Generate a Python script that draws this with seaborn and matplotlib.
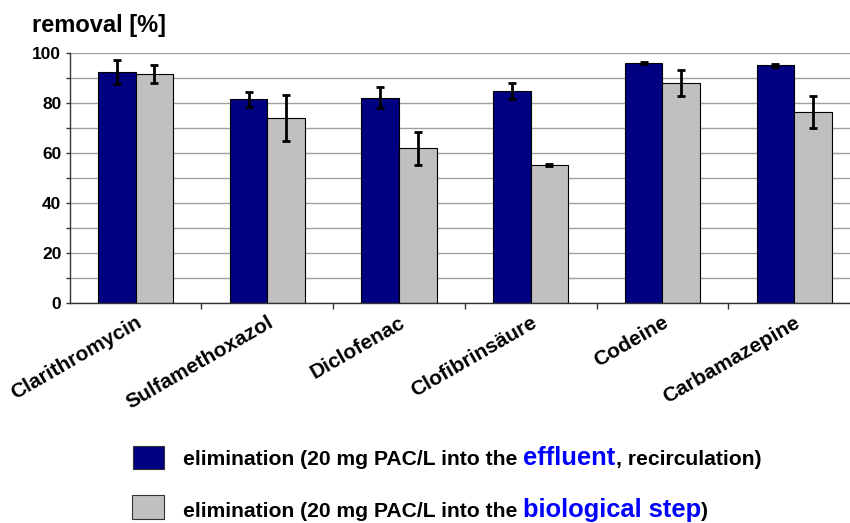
import matplotlib
matplotlib.use("Agg")
import matplotlib.pyplot as plt
import seaborn as sns
import pandas as pd
import numpy as np
from matplotlib.patches import Rectangle
from matplotlib.ticker import MultipleLocator

categories = ["Clarithromycin", "Sulfamethoxazol", "Diclofenac",
              "Clofibrinsäure", "Codeine", "Carbamazepine"]
effluent = [92.4, 81.6, 82.1, 84.8, 96.0, 95.1]
effluent_err = [4.8, 3.0, 4.2, 3.1, 0.3, 0.7]
bio = [91.7, 73.9, 61.9, 55.1, 88.1, 76.5]
bio_err = [3.5, 9.2, 6.6, 0.4, 5.3, 6.3]
series = ["effluent", "biological step"]
colors = ["#000080", "#C0C0C0"]
yticks = [0, 20, 40, 60, 80, 100]

sns.set_theme(style="white")
plt.rcParams['font.family'] = ['Liberation Sans', 'DejaVu Sans']
plt.rcParams['font.weight'] = 'bold'
plt.rcParams['text.color'] = 'black'
plt.rcParams['xtick.color'] = 'black'
plt.rcParams['ytick.color'] = 'black'

df = pd.DataFrame({
    "compound": categories * 2,
    "removal": effluent + bio,
    "series": [series[0]] * 6 + [series[1]] * 6,
})
errs = [effluent_err, bio_err]
vals = [effluent, bio]

W, H = 850, 523
fig = plt.figure(figsize=(W / 100, H / 100), dpi=100)
ax = fig.add_axes([69.7 / W, 220 / H, (860 - 69.7) / W, 250 / H])

sns.barplot(data=df, x="compound", y="removal", hue="series", order=categories,
            hue_order=series, palette=colors, saturation=1, width=0.57, gap=0,
            edgecolor="black", linewidth=0.8, errorbar=None, legend=False, ax=ax,
            zorder=2)

for cont, v, e in zip(ax.containers, vals, errs):
    xs = [p.get_x() + p.get_width() / 2 for p in cont.patches]
    ax.errorbar(xs, v, yerr=e, fmt='none', ecolor='black', elinewidth=2,
                capsize=2.6, capthick=2, zorder=3)

ax.set_xlim(-0.5, 5.5)
ax.set_ylim(0, 100)
ax.set_yticks(yticks)
ax.yaxis.set_minor_locator(MultipleLocator(10))
ax.set_axisbelow(True)
ax.grid(which='both', axis='y', color='#A0A0A0', lw=1.0)
ax.grid(False, axis='x')
for s in ['top', 'right']:
    ax.spines[s].set_visible(False)
for s in ['left', 'bottom']:
    ax.spines[s].set_color('#333333')
    ax.spines[s].set_linewidth(1.0)

ax.tick_params(axis='y', which='both', direction='out', length=3, width=1,
               color='#333333', left=True, pad=3, labelsize=12.5,
               labelcolor='black')
ax.set_xticks(np.arange(0.5, 5.5, 1), minor=True)
ax.tick_params(axis='x', which='minor', direction='out', length=4, width=1,
               color='#333333', bottom=True)
ax.tick_params(axis='x', which='major', length=0, pad=7, labelcolor='black')
ax.set_xticks(range(len(categories)))
ax.set_xticklabels(categories, rotation=30, ha='right', rotation_mode='anchor',
                   fontsize=15, fontweight='bold')
for lab in ax.get_yticklabels():
    lab.set_fontweight('bold')
ax.set_xlabel("")
ax.set_ylabel("")

fig.text(32 / W, 1 - 32 / H, "removal [%]", fontsize=17, fontweight='bold',
         ha='left', va='baseline', color='black')

# Legend
fig.patches.append(Rectangle((133 / W, 1 - 469 / H), 31 / W, 23.5 / H,
                             transform=fig.transFigure, facecolor=colors[0],
                             edgecolor='#333333', lw=0.8))
fig.patches.append(Rectangle((132 / W, 1 - 519 / H), 32 / W, 24 / H,
                             transform=fig.transFigure, facecolor=colors[1],
                             edgecolor='#333333', lw=0.8))

renderer = fig.canvas.get_renderer()

def rich(x, y, parts):
    for txt, col, size in parts:
        t = fig.text(x / W, 1 - y / H, txt, color=col, fontsize=size,
                     fontweight='bold', ha='left', va='baseline')
        bb = t.get_window_extent(renderer=renderer)
        x += bb.width

rich(183, 465, [("elimination (20 mg PAC/L into the ", "black", 15.2),
                ("effluent", "#0000FF", 18.4),
                (", recirculation)", "black", 15.2)])
rich(183, 517, [("elimination (20 mg PAC/L into the ", "black", 15.2),
                ("biological step", "#0000FF", 18.4),
                (")", "black", 15.2)])

fig.savefig("out.png", dpi=100)
